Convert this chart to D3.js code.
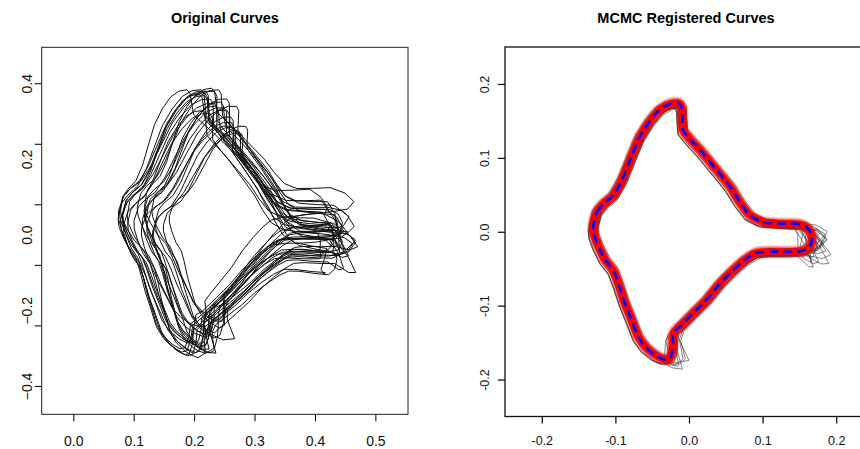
<!DOCTYPE html>
<html>
<head>
<meta charset="utf-8">
<title>Original and MCMC Registered Curves</title>
<script src="https://d3js.org/d3.v7.min.js"></script>
<style>
  body { margin: 0; background: #fff; }
  svg { display: block; font-family: "Liberation Sans", Arial, sans-serif; }
</style>
</head>
<body>
<svg width="860" height="449"></svg>
<script>
// Mean shape (blue dashed line), registered coordinates
const meanX = [-0.130, -0.125, -0.116, -0.103, -0.091, -0.080, -0.067, -0.053, -0.039, -0.026,
               -0.014, -0.010, -0.009, -0.008, -0.001, 0.019, 0.038, 0.056, 0.069, 0.083,
               0.101, 0.128, 0.151, 0.162, 0.167, 0.164, 0.153, 0.133, 0.106, 0.090,
               0.076, 0.060, 0.042, 0.024, 0.006, -0.012, -0.021, -0.022, -0.026, -0.033,
               -0.044, -0.058, -0.069, -0.078, -0.087, -0.096, -0.103, -0.114, -0.123, -0.129];
const meanY = [0.007, 0.027, 0.038, 0.049, 0.070, 0.097, 0.128, 0.150, 0.166, 0.173,
               0.174, 0.168, 0.150, 0.137, 0.128, 0.106, 0.083, 0.061, 0.040, 0.022,
               0.013, 0.011, 0.010, 0.004, -0.007, -0.020, -0.026, -0.027, -0.027, -0.029,
               -0.038, -0.052, -0.070, -0.092, -0.110, -0.128, -0.137, -0.155, -0.171, -0.173,
               -0.168, -0.157, -0.142, -0.119, -0.097, -0.070, -0.052, -0.038, -0.020, -0.004];
const TIP = 24, NOTCH = 37;   // indices of the tail tip and the lower notch

// Registered curves: tail tip, lower notch and residual shift of each curve
const tipX = [0.172, 0.188, 0.150, 0.178, 0.192, 0.168, 0.176, 0.185, 0.146, 0.170, 0.190, 0.175, 0.160,
              0.183, 0.173, 0.187, 0.155, 0.180, 0.163, 0.191, 0.171, 0.179, 0.166, 0.184, 0.174, 0.186];
const tipY = [-0.012, -0.018, 0.006, -0.034, -0.002, -0.008, -0.042, -0.014, -0.022, 0.004, -0.026, -0.016, -0.045,
              -0.006, -0.024, -0.030, -0.014, -0.020, 0.000, -0.010, -0.036, -0.004, -0.028, 0.002, -0.020, -0.038];
const notchX = [-0.022, -0.008, -0.022, -0.020, 0.004, -0.022, -0.018, -0.024, -0.012, -0.022, -0.020, -0.004, -0.038,
                -0.026, -0.022, -0.015, -0.022, -0.020, -0.010, -0.022, -0.024, -0.022, -0.018, -0.022, -0.020, -0.022];
const notchY = [-0.155, -0.182, -0.152, -0.158, -0.176, -0.150, -0.160, -0.148, -0.168, -0.155, -0.150, -0.185, -0.150,
                -0.145, -0.153, -0.172, -0.158, -0.150, -0.165, -0.154, -0.148, -0.157, -0.162, -0.152, -0.155, -0.150];
const shiftX = [0.003, -0.006, 0.006, -0.002, -0.004, 0.005, -0.007, 0.002, 0.004, -0.003, 0.003, -0.005, 0.006,
                -0.006, 0.002, -0.001, -0.007, 0.003, 0.005, -0.003, -0.001, 0.006, -0.004, 0.002, -0.005, 0.004];
const shiftY = [-0.005, 0.003, -0.002, -0.007, 0.002, 0.001, -0.006, 0.004, -0.004, 0.002, -0.005, -0.001, 0.003,
                -0.006, 0.001, 0.004, -0.005, 0.002, -0.007, -0.001, 0.003, -0.004, 0.001, -0.006, 0.002, -0.005];

// Original curves: centre, scale and rotation (degrees) of each curve
const origCx = [0.233, 0.241, 0.253, 0.263, 0.279, 0.230, 0.246, 0.259, 0.250, 0.236, 0.269, 0.243, 0.256,
                0.266, 0.233, 0.282, 0.240, 0.253, 0.263, 0.236, 0.233, 0.259, 0.269, 0.250, 0.230, 0.266];
const origCy = [0.026, 0.034, 0.018, 0.007, -0.003, 0.034, 0.065, 0.076, -0.014, 0.013, 0.026, 0.044, 0.039,
                0.052, 0.028, 0.013, 0.007, 0.055, -0.014, 0.023, 0.039, 0.029, 0.060, 0.018, 0.071, -0.009];
const origScale = [1.00, 0.96, 0.92, 0.88, 0.80, 1.02, 0.94, 0.90, 0.90, 0.96, 0.86, 0.98, 0.92,
                   0.88, 1.02, 0.78, 0.94, 0.95, 0.86, 0.90, 0.98, 0.93, 0.85, 0.96, 0.92, 0.88];
const origAngle = [-2, 0, -3, -5, -4, 2, 4, 5, -7, -5, -1, 1, -2,
                   3, -4, -6, -3, 0, -8, 1, -1, -6, 2, -4, 6, -3];
const unitX = 1.22, unitY = 1.96;   // one registered unit in original x / y units

// Tick values
const leftXTicks = [0, 0.1, 0.2, 0.3, 0.4, 0.5];
const leftYLabels = [0.4, 0.2, 0, -0.2, -0.4];
const leftYMarks = [0.4, 0.24, 0.08, -0.08, -0.24, -0.4];
const rightTicks = [-0.2, -0.1, 0, 0.1, 0.2];

const svg = d3.select("svg");

// Build the curves: tip / notch moves pull their neighbours part of the way
const regCurves = d3.range(tipX.length).map(k => {
    const dTip = [tipX[k] - meanX[TIP], tipY[k] - meanY[TIP]];
    const dNotch = [notchX[k] - meanX[NOTCH], notchY[k] - meanY[NOTCH]];
    return meanX.map((x, i) => {
        let w = 0, d = [0, 0];
        if (Math.abs(i - TIP) <= 1) { w = i === TIP ? 1 : 0.6; d = dTip; }
        if (Math.abs(i - NOTCH) <= 1) { w = i === NOTCH ? 1 : 0.4; d = dNotch; }
        return [x + w * d[0] + shiftX[k], meanY[i] + w * d[1] + shiftY[k]];
    });
});
const origCurves = regCurves.map((c, k) => {
    const a = origAngle[k] * Math.PI / 180, s = origScale[k];
    return c.map(([x, y]) => [
        origCx[k] + s * unitX * (x * Math.cos(a) - y * Math.sin(a)),
        origCy[k] + s * unitY * (x * Math.sin(a) + y * Math.cos(a))
    ]);
});
const meanCurve = meanX.map((x, i) => [x, meanY[i]]);

// ---------- Left panel ----------
const xL = d3.scaleLinear().domain([-0.0523, 0.554]).range([41.7, 408]);
const yL = d3.scaleLinear().domain([-0.475, 0.495]).range([414.3, 47.3]);

svg.append("clipPath").attr("id", "clipL").append("rect")
    .attr("x", 41.7).attr("y", 47.3).attr("width", 366.3).attr("height", 367);

const lineL = d3.line().x(d => xL(d[0])).y(d => yL(d[1])).curve(d3.curveLinearClosed);
svg.append("g").attr("clip-path", "url(#clipL)")
    .selectAll("path").data(origCurves).join("path")
    .attr("d", lineL)
    .attr("fill", "none")
    .attr("stroke", "#111")
    .attr("stroke-width", 1);

svg.append("rect")
    .attr("x", 41.7).attr("y", 47.3).attr("width", 366.3).attr("height", 367)
    .attr("fill", "none").attr("stroke", "#222").attr("stroke-width", 1);

const axXL = svg.append("g").attr("transform", "translate(0,414.3)")
    .call(d3.axisBottom(xL).tickValues(leftXTicks).tickSize(7).tickFormat(d3.format(".1f")));
axXL.select(".domain").remove();
axXL.selectAll("text").attr("y", 32).attr("dy", 0).style("font-size", "14px").attr("fill", "#111");

const axYLm = svg.append("g").attr("transform", "translate(41.7,0)")
    .call(d3.axisLeft(yL).tickValues(leftYMarks).tickSize(7).tickFormat(""));
axYLm.select(".domain").remove();

const axYL = svg.append("g").attr("transform", "translate(41.7,0)")
    .call(d3.axisLeft(yL).tickValues(leftYLabels).tickSize(0).tickFormat(d3.format(".1f")));
axYL.select(".domain").remove();
axYL.selectAll("text")
    .attr("transform", "rotate(-90)")
    .attr("x", 0).attr("y", -10).attr("dy", 0)
    .attr("text-anchor", "middle")
    .style("font-size", "14px").attr("fill", "#111");

svg.append("text")
    .attr("x", 224.9).attr("y", 22.5)
    .attr("text-anchor", "middle")
    .style("font-size", "14.5px").style("font-weight", "bold")
    .text("Original Curves");

// ---------- Right panel ----------
const xR = d3.scaleLinear().domain([-0.25, 0.25]).range([505, 873]);
const yR = d3.scaleLinear().domain([-0.25, 0.25]).range([416.5, 47]);

const defs = svg.append("defs");
defs.append("filter").attr("id", "soft")
    .attr("x", "-10%").attr("y", "-10%").attr("width", "120%").attr("height", "120%")
    .append("feGaussianBlur").attr("stdDeviation", 1.3);

const lineR = d3.line().x(d => xR(d[0])).y(d => yR(d[1])).curve(d3.curveLinearClosed);
const smoothR = d3.line().x(d => xR(d[0])).y(d => yR(d[1])).curve(d3.curveCatmullRomClosed.alpha(0.5));

svg.append("g")
    .selectAll("path").data(regCurves).join("path")
    .attr("d", lineR)
    .attr("fill", "none")
    .attr("stroke", "#333")
    .attr("stroke-opacity", 0.85)
    .attr("stroke-width", 0.7);

svg.append("path").datum(meanCurve)
    .attr("d", smoothR)
    .attr("fill", "none")
    .attr("stroke", "#ff0000")
    .attr("stroke-opacity", 0.75)
    .attr("stroke-width", 10)
    .attr("stroke-linejoin", "round")
    .attr("filter", "url(#soft)");
svg.append("path").datum(meanCurve)
    .attr("d", smoothR)
    .attr("fill", "none")
    .attr("stroke", "#ff0000")
    .attr("stroke-width", 6.5)
    .attr("stroke-linejoin", "round");
svg.append("path").datum(meanCurve)
    .attr("d", smoothR)
    .attr("fill", "none")
    .attr("stroke", "#0000ff")
    .attr("stroke-width", 2.6)
    .attr("stroke-dasharray", "9,5");

svg.append("rect")
    .attr("x", 505).attr("y", 47).attr("width", 368).attr("height", 369.5)
    .attr("fill", "none").attr("stroke", "#111").attr("stroke-width", 1.3);

const fmtR = v => d3.format(".1f")(v).replace("\u2212", "-");
const axXR = svg.append("g").attr("transform", "translate(0,416.5)")
    .call(d3.axisBottom(xR).tickValues(rightTicks).tickSize(7).tickFormat(fmtR));
axXR.select(".domain").remove();
axXR.selectAll("line").attr("stroke-width", 1.2);
axXR.selectAll("text").attr("y", 28).attr("dy", 0).style("font-size", "12.5px").attr("fill", "#111");

const axYR = svg.append("g").attr("transform", "translate(505,0)")
    .call(d3.axisLeft(yR).tickValues(rightTicks).tickSize(7).tickFormat(fmtR));
axYR.select(".domain").remove();
axYR.selectAll("line").attr("stroke-width", 1.2);
axYR.selectAll("text")
    .attr("transform", "rotate(-90)")
    .attr("x", 0).attr("y", -16.5).attr("dy", 0)
    .attr("text-anchor", "middle")
    .style("font-size", "12.5px").attr("fill", "#111");

svg.append("text")
    .attr("x", 686).attr("y", 22.5)
    .attr("text-anchor", "middle")
    .style("font-size", "14.5px").style("font-weight", "bold")
    .text("MCMC Registered Curves");
</script>
</body>
</html>
